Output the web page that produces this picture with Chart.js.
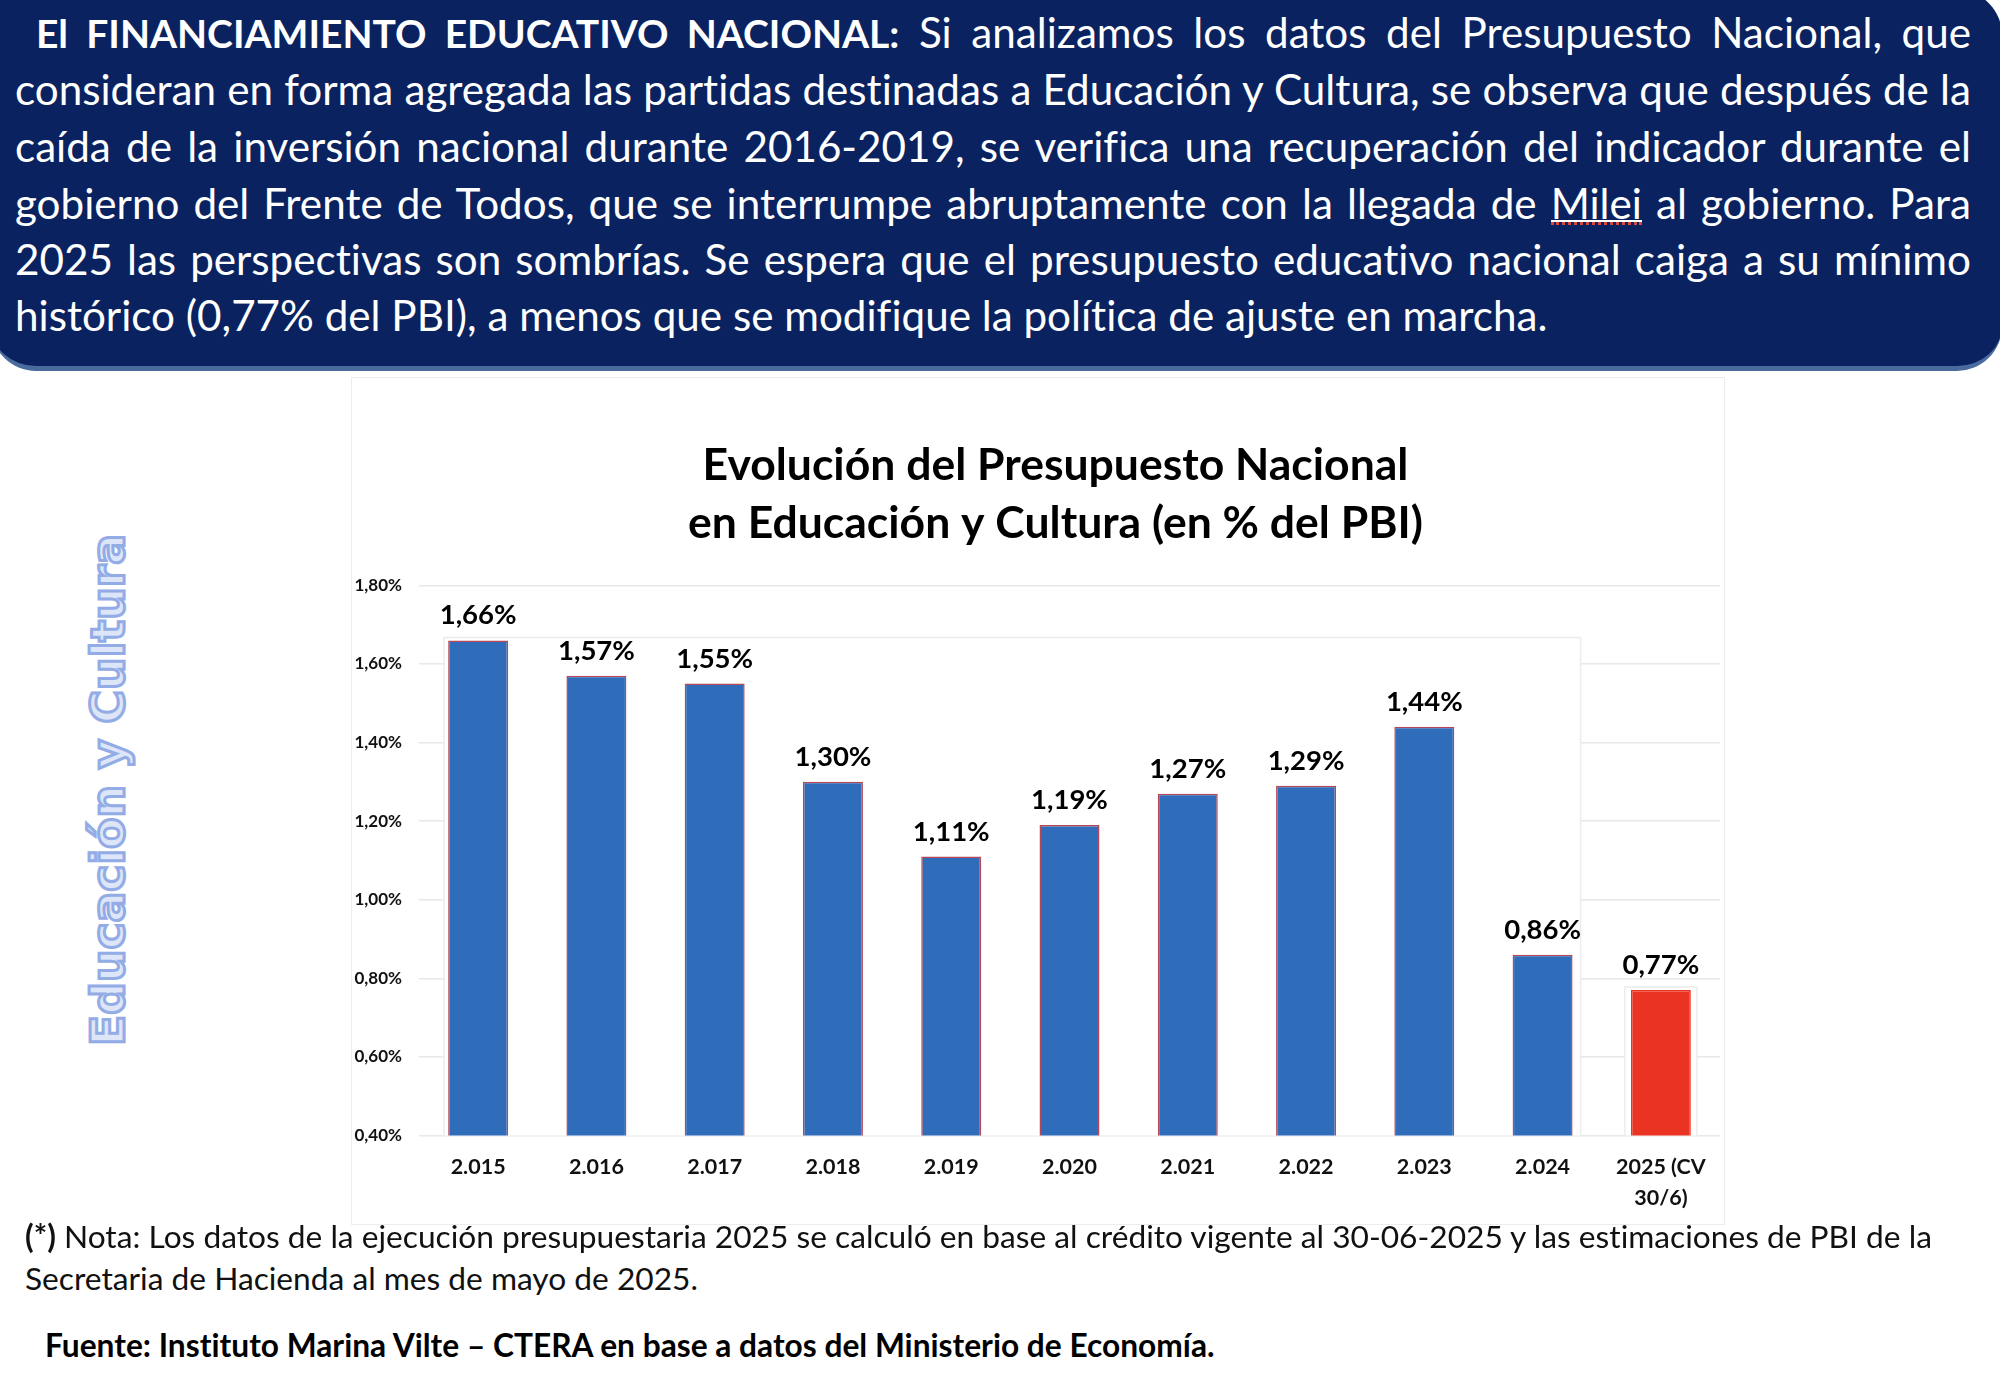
<!DOCTYPE html>
<html>
<head>
<meta charset="utf-8">
<title>Presupuesto Nacional en Educación y Cultura</title>
<script src="https://cdn.jsdelivr.net/npm/chart.js"></script>
<style>
    html, body { margin: 0; padding: 0; background: #fff; }
    body { position: relative; width: 2000px; height: 1385px; overflow: hidden; font-family: Lato, sans-serif; font-variant-ligatures: none; }
    .panel {
        position: absolute; left: -9px; top: -10px; width: 2011px; height: 376px;
        background: #0a2360; border-bottom: 5px solid #4a6b9e;
        border-radius: 0 45px 45px 45px;
    }
    .line { position: absolute; left: 15px; width: 1956px; color: #fff; font-size: 42.2px; line-height: 56px; white-space: nowrap; text-align: justify; text-align-last: justify; }
    .line b { font-size: 39px; }
    .line.last { text-align-last: left; }
    .milei { position: relative; }
    .milei::before { content: ''; position: absolute; left: 0; right: 0; bottom: 6px; border-bottom: 2px solid #fff; }
    .milei::after { content: ''; position: absolute; left: 0; right: 0; bottom: 3px; border-bottom: 3px dotted #d8483f; }
    .card { position: absolute; left: 351px; top: 377px; width: 1372px; height: 846px; border: 1px solid #ececec; box-sizing: content-box; background: #fff; }
    .side {
        position: absolute; left: 108px; top: 790px; transform: translate(-50%, -50%) rotate(-90deg);
        font-family: "DejaVu Sans", sans-serif; font-weight: bold; font-size: 45.7px; white-space: nowrap;
        color: #dde6f8; -webkit-text-stroke: 3px #93ace6;
    }
    .note { position: absolute; left: 25px; color: #111; font-size: 31.7px; line-height: 42px; white-space: nowrap; }
    .source { position: absolute; left: 45px; top: 1324px; color: #000; font-size: 31.7px; line-height: 42px; font-weight: bold; white-space: nowrap; }
</style>
</head>
<body>
<div class="panel"></div>
<div class="line" style="top:4px;left:36px;width:1935px"><b>El FINANCIAMIENTO EDUCATIVO NACIONAL:</b> Si analizamos los datos del Presupuesto Nacional, que</div>
<div class="line" style="top:61px">consideran en forma agregada las partidas destinadas a Educación y Cultura, se observa que después de la</div>
<div class="line" style="top:118px">caída de la inversión nacional durante 2016-2019, se verifica una recuperación del indicador durante el</div>
<div class="line" style="top:175px">gobierno del Frente de Todos, que se interrumpe abruptamente con la llegada de <span class="milei">Milei</span> al gobierno. Para</div>
<div class="line" style="top:231px">2025 las perspectivas son sombrías. Se espera que el presupuesto educativo nacional caiga a su mínimo</div>
<div class="line last" style="top:287px">histórico (0,77% del PBI), a menos que se modifique la política de ajuste en marcha.</div>

<div class="side">Educación y Cultura</div>

<div class="card"><canvas id="budgetChart" width="1372" height="846"></canvas></div>

<div class="note" style="top:1215px"><b>(*)</b> Nota: Los datos de la ejecución presupuestaria 2025 se calculó en base al crédito vigente al 30-06-2025 y las estimaciones de PBI de la</div>
<div class="note" style="top:1257px">Secretaria de Hacienda al mes de mayo de 2025.</div>
<div class="source">Fuente: Instituto Marina Vilte – CTERA en base a datos del Ministerio de Economía.</div>

<script>
// Chart data
const categories = ['2.015', '2.016', '2.017', '2.018', '2.019', '2.020', '2.021', '2.022', '2.023', '2.024', ['2025 (CV', '30/6)']];
const budgetShare = [1.66, 1.57, 1.55, 1.30, 1.11, 1.19, 1.27, 1.29, 1.44, 0.86, 0.77];
const yTickLabels = ['0,40%', '0,60%', '0,80%', '1,00%', '1,20%', '1,40%', '1,60%', '1,80%'];
const chartTitle = ['Evolución del Presupuesto Nacional', 'en Educación y Cultura (en % del PBI)'];

const barColors = budgetShare.map((v, i) => i === budgetShare.length - 1 ? '#ea3323' : '#2f6dbb');
const barBorders = budgetShare.map((v, i) => i === budgetShare.length - 1 ? '#ea3323' : '#b4475a');

// The title sits right of the canvas centre in the original
const titleShift = {
    id: 'titleShift',
    afterLayout(chart) {
        chart.titleBlock.left += 19.5;
        chart.titleBlock.right += 19.5;
    }
};

// White boxes that cover the gridlines behind the bars (pasted over in the original slide)
const gridCover = {
    id: 'gridCover',
    beforeDatasetsDraw(chart) {
        const { ctx } = chart;
        const x = chart.scales.x, y = chart.scales.y;
        const halfBar = 30;
        const last = budgetShare.length - 1;
        const base = y.getPixelForValue(0.4);

        const left = x.getPixelForValue(0) - halfBar - 4;
        const right = x.getPixelForValue(last - 1) + halfBar + 8;
        const top = y.getPixelForValue(budgetShare[0]) - 3;

        ctx.save();
        ctx.fillStyle = '#fff';
        ctx.strokeStyle = '#ececec';
        ctx.lineWidth = 1.5;
        ctx.fillRect(left, top, right - left, base - top);
        ctx.beginPath();
        ctx.moveTo(left, base);
        ctx.lineTo(left, top);
        ctx.lineTo(right, top);
        ctx.lineTo(right, base);
        ctx.stroke();

        const rl = x.getPixelForValue(last) - 36;
        const rr = x.getPixelForValue(last) + 36;
        const rt = y.getPixelForValue(budgetShare[last]) - 3;
        ctx.fillRect(rl, rt, rr - rl, base - rt);
        ctx.beginPath();
        ctx.moveTo(rl, base);
        ctx.lineTo(rl, rt);
        ctx.lineTo(rr, rt);
        ctx.lineTo(rr, base);
        ctx.stroke();
        ctx.restore();
    }
};

// Value above every bar
const valueLabels = {
    id: 'valueLabels',
    afterDatasetsDraw(chart) {
        const { ctx } = chart;
        const meta = chart.getDatasetMeta(0);
        ctx.save();
        ctx.font = 'bold 27.5px Lato';
        ctx.fillStyle = '#000';
        ctx.textAlign = 'center';
        ctx.textBaseline = 'alphabetic';
        meta.data.forEach((bar, i) => {
            const text = budgetShare[i].toFixed(2).replace('.', ',') + '%';
            ctx.fillText(text, bar.x, bar.y - 16);
        });
        ctx.restore();
    }
};

new Chart(document.getElementById('budgetChart').getContext('2d'), {
    type: 'bar',
    data: {
        labels: categories,
        datasets: [{
            data: budgetShare,
            backgroundColor: barColors,
            borderColor: barBorders,
            borderWidth: 1.5,
            categoryPercentage: 1,
            barPercentage: 0.507
        }]
    },
    options: {
        responsive: false,
        animation: false,
        layout: { padding: { left: 0, right: 4, top: 0, bottom: 0 } },
        plugins: {
            legend: { display: false },
            tooltip: { enabled: false },
            title: {
                display: true,
                text: chartTitle,
                color: '#000',
                font: { family: 'Lato', weight: 'bold', size: 44.5, lineHeight: 1.319 },
                padding: { top: 58, bottom: 32 }
            }
        },
        scales: {
            x: {
                grid: { display: false },
                border: { display: false },
                afterFit(scale) { scale.height = 88.5; },
                ticks: {
                    color: '#111',
                    font: { family: 'Lato', weight: 'bold', size: 21.5, lineHeight: 1.4 },
                    padding: 9,
                    maxRotation: 0,
                    autoSkip: false
                }
            },
            y: {
                min: 0.4,
                max: 1.8,
                afterFit(scale) { scale.width = 67; },
                grid: { color: '#e8e8e8', lineWidth: 1.5, drawTicks: false },
                border: { display: false },
                ticks: {
                    stepSize: 0.2,
                    color: '#111',
                    font: { family: 'Lato', weight: 'bold', size: 17 },
                    padding: 17,
                    callback: (value, index) => yTickLabels[index]
                }
            }
        }
    },
    plugins: [titleShift, gridCover, valueLabels]
});
</script>
</body>
</html>
